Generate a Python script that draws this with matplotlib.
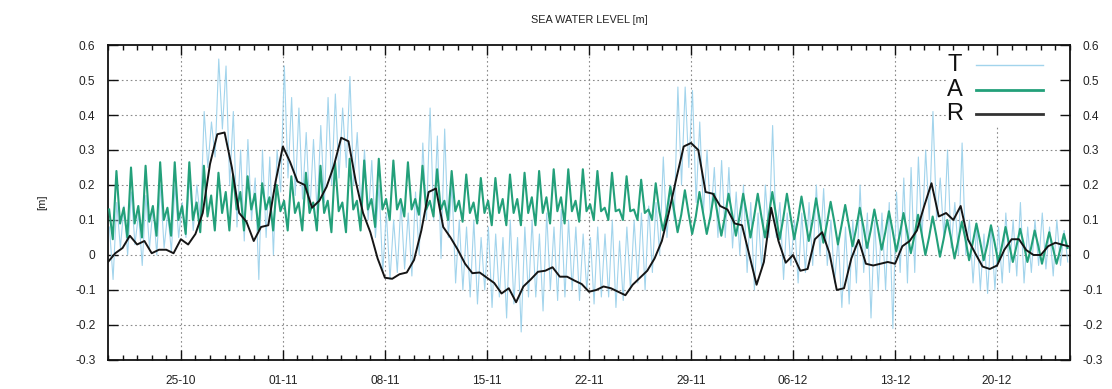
import numpy as np
import matplotlib
matplotlib.use('Agg')
import matplotlib.pyplot as plt
import matplotlib.dates as mdates
from matplotlib.patches import Rectangle
from datetime import datetime

plt.rcParams['font.family'] = ['Liberation Sans', 'DejaVu Sans']

# series start, one value group per day (20-10 .. 24-12)
start = datetime(2010, 10, 20)
end = datetime(2010, 12, 25)

# A - astronomical tide, 4 turning points per day (at +2h, +8h, +14h, +20h)
a_q1 = [0.13, 0.135, 0.14, 0.14, 0.135, 0.14,
        0.15, 0.17, 0.18, 0.18, 0.175, 0.165,
        0.155, 0.15, 0.15, 0.155, 0.15, 0.155, 0.16,
        0.16, 0.16, 0.16, 0.155, 0.155, 0.155, 0.15, 0.155, 0.16,
        0.16, 0.165, 0.165, 0.165, 0.155, 0.145, 0.135, 0.13, 0.13, 0.13,
        0.07, 0.065, 0.06, 0.06, 0.055, 0.055, 0.05, 0.05, 0.045,
        0.045, 0.04, 0.035, 0.03, 0.025, 0.02, 0.015, 0.01, 0.005, 0.0,
        -0.005, -0.01, -0.015, -0.015, -0.02, -0.02, -0.02, -0.025, -0.025]
a_q2 = [0.045, 0.05, 0.05, 0.055, 0.055, 0.06,
        0.065, 0.07, 0.07, 0.07, 0.07, 0.07,
        0.07, 0.07, 0.07, 0.065, 0.065, 0.07, 0.08,
        0.1, 0.11, 0.115, 0.11, 0.1, 0.095, 0.09, 0.085, 0.085,
        0.085, 0.085, 0.09, 0.09, 0.095, 0.1, 0.1, 0.1, 0.1, 0.1,
        0.12, 0.115, 0.11, 0.11, 0.11, 0.11, 0.11, 0.11, 0.105,
        0.1, 0.095, 0.09, 0.085, 0.075, 0.07, 0.065, 0.06, 0.055, 0.05,
        0.045, 0.04, 0.035, 0.03, 0.025, 0.025, 0.02, 0.02, 0.015]
a_q3 = [0.24, 0.25, 0.255, 0.265, 0.265, 0.265,
        0.255, 0.235, 0.23, 0.225, 0.205, 0.2,
        0.225, 0.235, 0.255, 0.265, 0.275, 0.27, 0.275,
        0.27, 0.265, 0.255, 0.245, 0.24, 0.23, 0.22, 0.22, 0.23,
        0.235, 0.24, 0.245, 0.245, 0.245, 0.24, 0.235, 0.225, 0.215, 0.205,
        0.195, 0.185, 0.18, 0.175, 0.175, 0.175, 0.175, 0.18, 0.175,
        0.167, 0.162, 0.152, 0.143, 0.135, 0.13, 0.125, 0.12, 0.115, 0.11,
        0.1, 0.095, 0.09, 0.085, 0.08, 0.075, 0.07, 0.065, 0.06]
a_q4 = [0.09, 0.09, 0.095, 0.1, 0.1, 0.1,
        0.11, 0.12, 0.13, 0.13, 0.13, 0.125,
        0.12, 0.12, 0.12, 0.125, 0.13, 0.13, 0.13,
        0.13, 0.13, 0.13, 0.13, 0.125, 0.12, 0.12, 0.12, 0.12,
        0.12, 0.12, 0.125, 0.125, 0.125, 0.125, 0.125, 0.125, 0.12, 0.125,
        0.13, 0.12, 0.12, 0.115, 0.115, 0.115, 0.11, 0.115, 0.11,
        0.105, 0.1, 0.095, 0.085, 0.08, 0.075, 0.07, 0.065, 0.06, 0.055,
        0.05, 0.045, 0.04, 0.035, 0.03, 0.03, 0.025, 0.02, 0.02]

# T - total level, high / low / high / low each day (+2h, +8h, +14h, +20h)
t_high1 = [0.08, 0.14, 0.12, 0.14, 0.12, 0.15, 0.2, 0.38, 0.54, 0.3,
           0.22, 0.28, 0.54, 0.42, 0.33, 0.45, 0.42, 0.35, 0.27, 0.12,
           0.15, 0.18, 0.42, 0.36, 0.1, 0.1, 0.08, 0.05, 0.05, 0.1,
           0.12, 0.13, 0.08, 0.05, 0.06, 0.04, 0.1, 0.14, 0.28, 0.48,
           0.47, 0.3, 0.27, 0.18, 0.15, 0.2, 0.15, 0.1, 0.15, 0.19,
           0.05, 0.1, 0.12, 0.12, 0.18, 0.25, 0.3, 0.22, 0.15, 0.1,
           0.06, 0.08, 0.1, 0.08, 0.12, 0.1]
t_low1 = [-0.07, 0.0, -0.03, 0.0, 0.01, 0.05, 0.1, 0.28, 0.2, 0.04,
          -0.07, 0.0, 0.22, 0.16, 0.12, 0.2, 0.25, 0.14, 0.05, -0.07,
          -0.04, 0.0, 0.1, 0.05, -0.1, -0.14, -0.15, -0.18, -0.22, -0.12,
          -0.1, -0.12, -0.13, -0.14, -0.12, -0.13, -0.08, -0.05, 0.05, 0.2,
          0.15, 0.1, 0.05, 0.0, -0.1, 0.05, -0.07, -0.08, -0.03, -0.03,
          -0.15, -0.08, -0.18, -0.1, -0.05, -0.05, 0.1, 0.05, 0.0, -0.08,
          -0.11, -0.08, -0.06, -0.05, -0.04, -0.03]
t_high2 = [0.15, 0.18, 0.17, 0.2, 0.2, 0.22, 0.41, 0.56, 0.41, 0.33,
           0.3, 0.3, 0.45, 0.35, 0.37, 0.46, 0.51, 0.3, 0.2, 0.1,
           0.12, 0.32, 0.34, 0.2, 0.08, 0.05, 0.06, 0.1, 0.08, 0.06,
           0.08, 0.1, 0.06, 0.08, 0.1, 0.08, 0.12, 0.15, 0.2, 0.48,
           0.38, 0.25, 0.25, 0.2, 0.12, 0.37, 0.12, 0.12, 0.2, 0.1,
           0.08, 0.2, 0.1, 0.15, 0.22, 0.28, 0.41, 0.3, 0.32, 0.08,
           0.08, 0.12, 0.15, 0.1, 0.08, 0.07]
t_low2 = [0.02, 0.03, 0.02, 0.02, 0.05, 0.07, 0.25, 0.36, 0.08, 0.1,
          0.05, 0.18, 0.17, 0.12, 0.15, 0.22, 0.2, 0.1, -0.05, -0.05,
          -0.06, 0.1, -0.01, -0.08, -0.12, -0.1, -0.12, -0.14, -0.12, -0.16,
          -0.13, -0.1, -0.1, -0.12, -0.15, -0.1, -0.1, 0.0, 0.1, 0.25,
          0.12, 0.05, 0.02, -0.05, -0.04, 0.05, -0.03, -0.05, 0.0, -0.08,
          -0.14, -0.05, -0.1, -0.21, -0.08, 0.05, 0.1, 0.02, 0.0, -0.1,
          -0.1, -0.05, -0.08, -0.03, -0.06, -0.02]

# R - residual, every 12 h from 20-10 00:00 to 25-12 00:00
r_vals = [-0.02, 0.005, 0.02, 0.055, 0.03, 0.04, 0.005, 0.015, 0.015, 0.005,
          0.045, 0.03, 0.06, 0.12, 0.26, 0.345, 0.35, 0.25, 0.12, 0.095,
          0.04, 0.08, 0.085, 0.21, 0.31, 0.265, 0.21, 0.2, 0.135, 0.155,
          0.195, 0.255, 0.335, 0.325, 0.21, 0.12, 0.065, -0.01, -0.065, -0.068,
          -0.055, -0.05, -0.014, 0.07, 0.18, 0.19, 0.08, 0.05, 0.015, -0.025,
          -0.052, -0.05, -0.065, -0.08, -0.11, -0.095, -0.135, -0.09, -0.07, -0.048,
          -0.045, -0.035, -0.062, -0.062, -0.073, -0.083, -0.105, -0.1, -0.09, -0.095,
          -0.105, -0.115, -0.085, -0.065, -0.045, -0.01, 0.04, 0.125, 0.22, 0.31,
          0.32, 0.3, 0.18, 0.175, 0.14, 0.13, 0.09, 0.085, 0.0, -0.085,
          -0.02, 0.135, 0.04, -0.022, 0.0, -0.045, -0.04, 0.045, 0.065, 0.005,
          -0.1, -0.095, -0.01, 0.043, -0.025, -0.03, -0.025, -0.02, -0.025, 0.025,
          0.04, 0.07, 0.14, 0.205, 0.11, 0.12, 0.1, 0.14, 0.045, 0.005,
          -0.033, -0.04, -0.03, 0.015, 0.045, 0.045, 0.014, 0.0, 0.0, 0.025,
          0.035, 0.029, 0.024]

tick_labels = ['25-10', '01-11', '08-11', '15-11', '22-11',
               '29-11', '06-12', '13-12', '20-12']
y_ticks = [-0.3, -0.2, -0.1, 0, 0.1, 0.2, 0.3, 0.4, 0.5, 0.6]

# colours
c_t = '#a2d4ec'
c_a = '#23a07a'
c_r = '#151515'

# time axes (matplotlib date numbers)
t0 = mdates.date2num(start)
a_vals = np.column_stack([a_q1, a_q2, a_q3, a_q4]).ravel()
a_time = t0 + 0.08 + 0.25 * np.arange(len(a_vals))
t_vals = np.column_stack([t_high1, t_low1, t_high2, t_low2]).ravel()
t_time = t0 + 0.1 + 0.25 * np.arange(len(t_vals))
r_time = t0 + 0.5 * np.arange(len(r_vals))

fig = plt.figure(figsize=(11.12, 3.89), dpi=100)
ax = fig.add_axes([0.0971, 0.0746, 0.8651, 0.8097])

ax.plot(t_time, t_vals, color=c_t, lw=0.8, zorder=2)
ax.plot(a_time, a_vals, color=c_a, lw=1.5, zorder=3)
ax.plot(r_time, r_vals, color=c_r, lw=1.4, zorder=4)

major_dates = [mdates.date2num(datetime.strptime(s + '-2010', '%d-%m-%Y')) for s in tick_labels]
ax.set_xlim(t0, mdates.date2num(end))
ax.set_ylim(-0.3, 0.6)
ax.set_xticks(major_dates)
ax.set_xticklabels(tick_labels)
ax.xaxis.set_minor_locator(mdates.DayLocator())
ax.set_yticks(y_ticks)
ax.set_yticklabels(['%g' % v for v in y_ticks])

# dotted grid, drawn by hand so the legend backdrop can sit between grid and ticks
grid_kw = dict(color='#8a8a8a', lw=0.8, linestyle=(0, (1.5, 2.5)), zorder=0.5)
for y in y_ticks[1:-1]:
    ax.axhline(y, **grid_kw)
for x in major_dates:
    ax.axvline(x, **grid_kw)

ax.tick_params(axis='both', which='both', direction='in', top=True, right=True,
               colors='#111', labelcolor='#222', labelsize=8.6, width=1)
ax.tick_params(axis='x', which='major', length=7, pad=11)
ax.tick_params(axis='x', which='minor', length=3.5)
ax.tick_params(axis='y', which='major', length=7, pad=9, labelright=True)

for s in ax.spines.values():
    s.set_linewidth(1.3)
    s.set_color('#111')

# legend (letters on the left, line samples on the right)
ax.add_patch(Rectangle((0.873, 0.74), 0.127, 0.26, transform=ax.transAxes,
                       facecolor='white', edgecolor='none', zorder=1))
leg = [('T', c_t, 1.0, 0.9365), ('A', c_a, 2.0, 0.857), ('R', '#333333', 2.0, 0.781)]
for name, col, lw, yy in leg:
    ax.text(0.8805, yy, name, transform=ax.transAxes, ha='center', va='center',
            fontsize=17, color='#111', zorder=5)
    ax.plot([0.902, 0.972], [yy, yy], transform=ax.transAxes, color=col, lw=lw, zorder=5)

fig.text(0.5296, 1 - 20 / 389, 'SEA WATER LEVEL [m]', ha='center', va='center',
         fontsize=7.8, color='#222')
fig.text(42 / 1112, 0.4794, '[m]', ha='center', va='center', rotation=90,
         fontsize=8, color='#222')

fig.savefig('out.png', dpi=100)
